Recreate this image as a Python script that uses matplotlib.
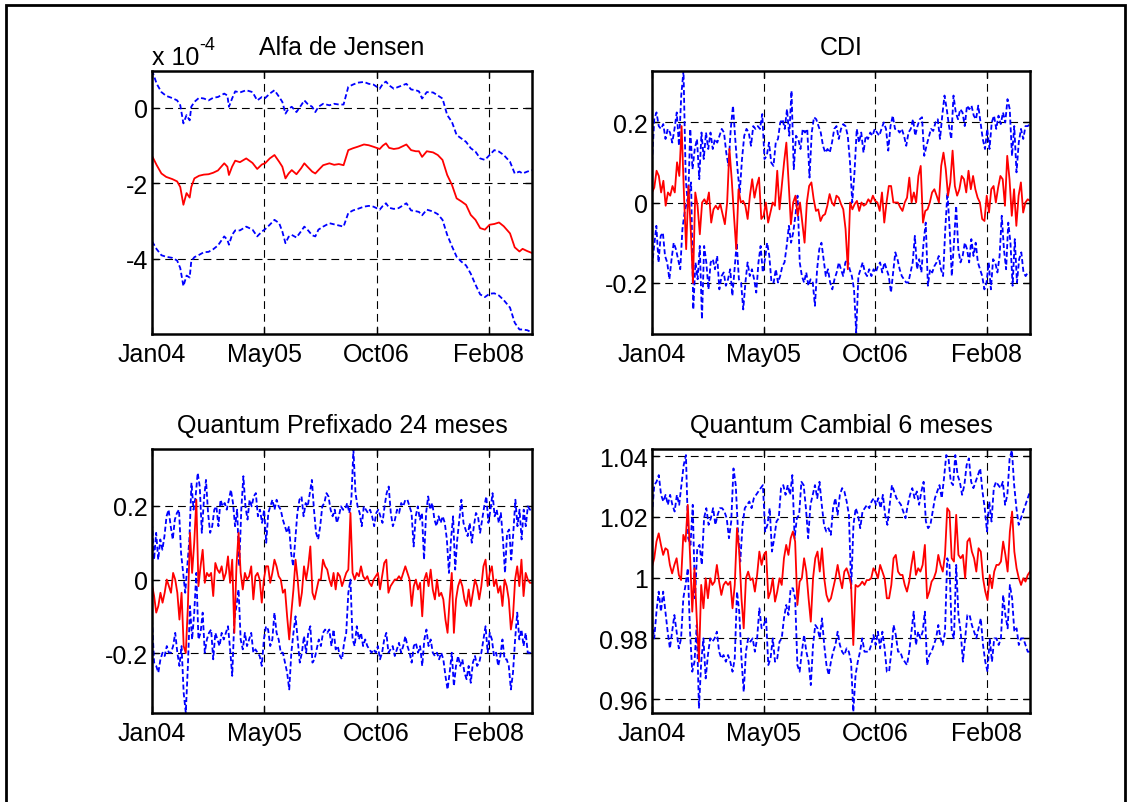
import numpy as np
import matplotlib
matplotlib.use('Agg')
import matplotlib.pyplot as plt
import matplotlib.dates as mdates
import matplotlib.ticker as ticker
from matplotlib.patches import Rectangle

plt.rcParams['font.family'] = ['Liberation Sans', 'DejaVu Sans']
plt.rcParams['axes.unicode_minus'] = False

# time axis: weekly data starting 04-Jan-2004, 242 weeks
start = np.datetime64('2004-01-04')
n_weeks = 242
tick_dates = ['2004-01-04', '2005-05-19', '2006-10-01', '2008-02-13']

titles = ['Alfa de Jensen', 'CDI', 'Quantum Prefixado 24 meses', 'Quantum Cambial 6 meses']

# ---- Alfa de Jensen (in units of 1e-4) ----
alfa_weeks = [0, 3, 6, 9, 13, 16, 18, 20, 22, 24, 25, 27, 30, 33, 36, 39, 42, 46, 48, 49,
              51, 53, 56, 60, 64, 67, 70, 72, 75, 78, 81, 83, 85, 87, 89, 92, 95, 97, 99, 102,
              104, 106, 109, 113, 116, 119, 122, 125, 128, 131, 135, 138, 141, 145, 147, 149, 151, 154, 157, 162,
              165, 168, 170, 172, 175, 179, 182, 185, 188, 191, 194, 197, 200, 203, 206, 209, 212, 215, 218, 221,
              224, 228, 231, 234, 236, 239, 242]
alfa_mid = [-1.27, -1.52, -1.74, -1.83, -1.89, -1.95, -2.10, -2.57, -2.26, -2.38,
            -2.10, -1.87, -1.80, -1.77, -1.76, -1.72, -1.66, -1.47, -1.56, -1.78,
            -1.56, -1.40, -1.44, -1.34, -1.46, -1.62, -1.50, -1.47, -1.34, -1.25,
            -1.43, -1.56, -1.87, -1.74, -1.65, -1.76, -1.60, -1.47, -1.56, -1.69,
            -1.74, -1.65, -1.52, -1.47, -1.51, -1.49, -1.52, -1.12, -1.07, -1.03,
            -0.97, -0.99, -1.03, -1.09, -1.00, -0.94, -1.06, -1.09, -1.07, -0.97,
            -1.12, -1.15, -1.15, -1.30, -1.15, -1.18, -1.25, -1.38, -1.78, -2.04,
            -2.40, -2.48, -2.57, -2.84, -2.97, -3.19, -3.23, -3.10, -3.08, -3.04,
            -3.14, -3.33, -3.70, -3.81, -3.74, -3.80, -3.85]
alfa_up = [1.00, 0.64, 0.42, 0.32, 0.26, 0.20, 0.07, -0.41, -0.19, -0.33,
           0.03, 0.16, 0.27, 0.25, 0.20, 0.27, 0.29, 0.38, 0.33, 0.03,
           0.25, 0.44, 0.41, 0.47, 0.42, 0.20, 0.29, 0.26, 0.38, 0.47,
           0.29, 0.16, -0.15, -0.02, 0.03, -0.11, 0.07, 0.20, 0.11, 0.03,
           -0.11, 0.03, 0.11, 0.07, 0.11, 0.09, 0.09, 0.56, 0.62, 0.67,
           0.69, 0.64, 0.62, 0.51, 0.64, 0.70, 0.60, 0.51, 0.56, 0.64,
           0.49, 0.47, 0.44, 0.25, 0.42, 0.41, 0.33, 0.25, -0.19, -0.37,
           -0.72, -0.81, -0.90, -1.07, -1.16, -1.34, -1.38, -1.25, -1.12, -1.16,
           -1.25, -1.43, -1.74, -1.69, -1.74, -1.69, -1.65]
alfa_low = [-3.54, -3.75, -3.91, -3.95, -3.98, -4.05, -4.25, -4.73, -4.45, -4.50,
            -4.07, -3.96, -3.90, -3.83, -3.82, -3.75, -3.65, -3.41, -3.50, -3.63,
            -3.37, -3.25, -3.25, -3.15, -3.23, -3.41, -3.28, -3.22, -3.10, -2.97,
            -3.06, -3.28, -3.59, -3.42, -3.37, -3.44, -3.27, -3.15, -3.23, -3.38,
            -3.41, -3.23, -3.15, -3.06, -3.09, -3.12, -3.15, -2.79, -2.72, -2.68,
            -2.62, -2.60, -2.62, -2.70, -2.60, -2.53, -2.65, -2.68, -2.66, -2.53,
            -2.72, -2.74, -2.76, -2.85, -2.70, -2.75, -2.82, -2.97, -3.37, -3.67,
            -3.95, -4.08, -4.18, -4.40, -4.69, -4.95, -5.02, -4.93, -4.92, -4.98,
            -5.10, -5.30, -5.70, -5.88, -5.88, -5.90, -5.96]
alfa_scale = 1e-4
alfa_yticks = [-4, -2, 0]
alfa_ylim = [-6.0, 0.98]

# ---- CDI ----
cdi_mid = [0.025, 0.037, 0.079, 0.066, 0.025, 0.054, -0.008, 0.025, 0.017, 0.041, 0.025, 0.10, 0.066, 0.19,
           0.025, -0.116, 0.041, -0.066, -0.20, 0.025, -0.008, -0.079, 0, 0.008, -0.004, 0.025, -0.05, -0.017,
           -0.008, -0.017, -0.004, -0.029, -0.054, 0, 0.133, 0.058, -0.033, -0.116, 0.033, 0, 0.004, -0.008,
           -0.041, 0.017, 0.058, 0.012, 0.041, 0.062, -0.041, -0.033, 0, -0.05, -0.025, 0, -0.008, 0.079, -0.017,
           0.041, 0.10, 0.149, 0.05, -0.054, 0, 0.017, -0.033, 0, -0.05, -0.10, 0, 0.041, 0.05, 0.008, -0.021,
           -0.017, -0.046, -0.033, -0.029, -0.008, 0.021, 0, -0.008, 0.017, 0.012, -0.004, -0.017, -0.066, -0.166,
           0, -0.017, -0.004, 0.004, -0.021, 0, -0.008, -0.004, 0.008, 0, 0.017, 0.004, 0, -0.021, 0.025, -0.05,
           0, 0.041, 0.041, 0, 0, 0, -0.012, -0.021, 0, 0.012, 0.062, 0, 0.025, 0, 0.066, 0.091, -0.05, -0.021,
           -0.017, 0, 0.025, 0.033, 0.017, 0, 0.091, 0.124, 0.083, 0.017, 0.05, 0.129, 0.041, 0.017, 0.033, 0.066,
           0.058, 0.025, 0.079, 0.033, 0.066, 0.033, 0.012, 0, -0.041, -0.046, 0.017, -0.025, 0.033, 0.041, 0,
           0.037, 0.066, 0.058, -0.008, 0.116, 0.058, -0.033, 0.033, -0.058, 0.017, 0.05, -0.025, 0, 0.008, 0.004]
cdi_up = [0.10, 0.207, 0.224, 0.19, 0.183, 0.195, 0.158, 0.183, 0.174, 0.149, 0.183, 0.224, 0.141, 0.266,
          0.328, 0.058, -0.008, 0.183, 0.083, 0.133, 0.158, 0.058, 0.174, 0.108, 0.174, 0.133, 0.174, 0.133,
          0.158, 0.149, 0.166, 0.183, 0.174, 0.124, 0.091, 0.183, 0.241, 0.158, 0.083, 0.025, 0.108, 0.166,
          0.183, 0.174, 0.141, 0.19, 0.183, 0.19, 0.183, 0.22, 0.108, 0.116, 0.149, 0.099, 0.091, 0.149, 0.158,
          0.199, 0.207, 0.183, 0.232, 0.166, 0.278, 0.083, 0.166, 0.158, 0.133, 0.183, 0.174, 0.183, 0.062,
          0.174, 0.212, 0.207, 0.19, 0.174, 0.141, 0.124, 0.133, 0.124, 0.149, 0.183, 0.19, 0.158, 0.183, 0.195,
          0.19, 0.166, 0.10, 0, 0.075, 0.183, 0.149, 0.174, 0.124, 0.166, 0.158, 0.174, 0.166, 0.183, 0.174,
          0.166, 0.183, 0.199, 0.183, 0.129, 0.19, 0.216, 0.183, 0.183, 0.174, 0.183, 0.166, 0.141, 0.174, 0.183,
          0.207, 0.166, 0.19, 0.207, 0.212, 0.116, 0.141, 0.162, 0.183, 0.178, 0.199, 0.207, 0.158, 0.216, 0.266,
          0.232, 0.19, 0.158, 0.266, 0.224, 0.207, 0.232, 0.224, 0.19, 0.241, 0.232, 0.241, 0.216, 0.207, 0.241,
          0.199, 0.158, 0.133, 0.183, 0.133, 0.199, 0.216, 0.183, 0.216, 0.195, 0.224, 0.199, 0.257, 0.232, 0.116,
          0.19, 0.075, 0.149, 0.183, 0.158, 0.19, 0.19, 0.195]
cdi_low = [-0.158, -0.108, -0.058, -0.149, -0.083, -0.075, -0.133, -0.149, -0.191, -0.141, -0.10, -0.116,
           -0.141, -0.166, -0.066, -0.025, 0, 0.017, 0.05, -0.266, -0.149, -0.191, -0.108, -0.29, -0.108, -0.149,
           -0.216, -0.149, -0.141, -0.166, -0.133, -0.216, -0.183, -0.174, -0.207, -0.191, -0.166, -0.232, -0.166,
           -0.10, -0.191, -0.199, -0.266, -0.199, -0.149, -0.183, -0.166, -0.191, -0.224, -0.149, -0.108, -0.174,
           -0.141, -0.10, -0.133, -0.199, -0.199, -0.166, -0.199, -0.183, -0.158, -0.149, -0.108, -0.058, -0.10,
           -0.075, -0.033, 0.017, -0.149, -0.183, -0.199, -0.174, -0.207, -0.191, -0.199, -0.257, -0.166, -0.116,
           -0.10, -0.141, -0.183, -0.166, -0.199, -0.216, -0.191, -0.174, -0.149, -0.166, -0.183, -0.149, -0.141,
           -0.166, -0.183, -0.216, -0.324, -0.183, -0.166, -0.149, -0.174, -0.183, -0.166, -0.183, -0.166, -0.174,
           -0.158, -0.149, -0.174, -0.149, -0.166, -0.183, -0.224, -0.174, -0.124, -0.141, -0.166, -0.183, -0.191,
           -0.199, -0.199, -0.174, -0.149, -0.083, -0.166, -0.141, -0.174, -0.10, -0.05, -0.207, -0.166, -0.174,
           -0.158, -0.149, -0.133, -0.166, -0.183, -0.066, 0.025, -0.066, -0.183, -0.10, -0.008, -0.116, -0.149,
           -0.133, -0.10, -0.116, -0.149, -0.091, -0.133, -0.10, -0.149, -0.166, -0.183, -0.216, -0.199, -0.149,
           -0.216, -0.141, -0.149, -0.174, -0.133, -0.033, -0.116, -0.166, -0.05, -0.10, -0.207, -0.091, -0.199,
           -0.141, -0.124, -0.174, -0.183, -0.174, -0.174]
cdi_yticks = [-0.2, 0, 0.2]
cdi_ylim = [-0.327, 0.327]

# ---- Quantum Prefixado 24 meses ----
pre_mid = [-0.014, -0.045, -0.09, -0.072, -0.036, -0.063, -0.036, 0, -0.018, -0.036, 0.018, 0, -0.036, -0.109,
           -0.036, -0.181, -0.2, -0.072, 0.127, 0.018, 0.10, 0.217, -0.018, 0.036, 0.081, -0.009, 0.018, 0.009,
           0.018, -0.045, 0.045, 0.027, 0.018, 0.036, 0, 0.018, 0.063, -0.009, 0.054, -0.145, 0.036, 0.127, 0.018,
           -0.027, 0.018, 0, 0.009, 0.036, -0.054, 0.009, 0.018, 0, -0.063, 0, 0.036, 0.036, -0.009, 0.018, 0.054,
           0.036, 0.009, 0, -0.036, -0.027, -0.10, -0.163, -0.09, -0.027, 0.054, 0, -0.072, -0.036, 0.036, 0,
           0.036, 0.09, -0.036, -0.054, -0.027, 0, 0, 0.054, 0.036, 0.027, 0, -0.018, 0.018, -0.027, 0.018, 0.009,
           -0.018, 0, 0.018, 0.027, 0.181, 0.018, 0, 0.018, 0.009, 0.036, 0.009, 0, 0.009, -0.009, -0.018, 0,
           0.009, 0.018, -0.027, 0.009, 0.045, 0.054, -0.036, -0.018, -0.009, 0, 0, 0.009, 0, 0.018, 0.036, 0.018,
           0, -0.072, -0.018, 0, -0.027, -0.009, -0.10, 0, 0.018, -0.018, 0.027, -0.027, -0.054, 0, -0.045, -0.036,
           -0.054, -0.109, -0.145, -0.054, 0.018, -0.145, -0.054, -0.018, 0, -0.018, -0.054, -0.072, -0.027,
           -0.072, -0.036, 0, -0.018, -0.054, -0.018, 0.036, 0.054, -0.018, 0.018, 0.036, -0.018, 0, -0.036,
           -0.018, -0.072, 0, -0.018, -0.054, -0.136, -0.10, 0, 0.036, -0.018, 0.054, -0.045, 0.018, 0, -0.009,
           -0.009]
pre_up = [0.154, 0.054, 0.127, 0.054, 0.109, 0.081, 0.118, 0.172, 0.19, 0.145, 0.109, 0.163, 0.181, 0.19,
          0.072, 0.018, -0.036, 0.036, 0.109, 0.263, 0.19, 0.226, 0.29, 0.253, 0.127, 0.217, 0.271, 0.181, 0.127,
          0.145, 0.19, 0.199, 0.145, 0.217, 0.199, 0.208, 0.19, 0.217, 0.244, 0.208, 0.145, 0.19, 0.036, 0.19,
          0.281, 0.199, 0.163, 0.217, 0.199, 0.226, 0.235, 0.172, 0.19, 0.154, 0.19, 0.10, 0.181, 0.199, 0.217,
          0.19, 0.217, 0.199, 0.19, 0.163, 0.145, 0.127, 0.145, 0.072, 0.036, 0.109, 0.181, 0.217, 0.226, 0.172,
          0.208, 0.199, 0.235, 0.271, 0.19, 0.127, 0.109, 0.145, 0.199, 0.208, 0.235, 0.226, 0.19, 0.172, 0.19,
          0.154, 0.172, 0.199, 0.19, 0.19, 0.208, 0.181, 0.217, 0.353, 0.235, 0.199, 0.181, 0.145, 0.199, 0.19,
          0.181, 0.19, 0.172, 0.145, 0.181, 0.19, 0.172, 0.154, 0.199, 0.235, 0.253, 0.181, 0.145, 0.163, 0.19,
          0.181, 0.208, 0.199, 0.217, 0.217, 0.199, 0.181, 0.09, 0.172, 0.199, 0.163, 0.181, 0.054, 0.181, 0.226,
          0.19, 0.208, 0.163, 0.145, 0.172, 0.154, 0.172, 0.154, 0.109, 0.018, 0.109, 0.172, 0.027, 0.109, 0.163,
          0.217, 0.154, 0.136, 0.118, 0.154, 0.10, 0.145, 0.181, 0.172, 0.127, 0.163, 0.199, 0.226, 0.154, 0.19,
          0.235, 0.172, 0.19, 0.154, 0.181, 0.109, 0.018, 0.127, 0.136, 0.054, 0.127, 0.217, 0.145, 0.19, 0.109,
          0.19, 0.145, 0.199, 0.19, 0.19]
pre_low = [-0.109, -0.226, -0.235, -0.253, -0.217, -0.199, -0.208, -0.181, -0.199, -0.199, -0.181, -0.145,
           -0.199, -0.235, -0.181, -0.308, -0.362, -0.235, -0.072, -0.163, -0.09, 0.018, -0.163, -0.145, -0.09,
           -0.199, -0.163, -0.145, -0.136, -0.217, -0.145, -0.163, -0.181, -0.145, -0.163, -0.145, -0.127, -0.19,
           -0.262, -0.109, -0.072, -0.027, -0.163, -0.19, -0.145, -0.181, -0.163, -0.145, -0.199, -0.19, -0.199,
           -0.208, -0.235, -0.163, -0.127, -0.136, -0.181, -0.163, -0.09, -0.145, -0.163, -0.199, -0.199, -0.226,
           -0.253, -0.299, -0.199, -0.145, -0.10, -0.163, -0.226, -0.199, -0.154, -0.199, -0.145, -0.127, -0.226,
           -0.217, -0.19, -0.163, -0.181, -0.145, -0.136, -0.145, -0.136, -0.181, -0.136, -0.19, -0.181, -0.208,
           -0.217, -0.172, -0.145, -0.036, 0, -0.163, -0.181, -0.127, -0.163, -0.145, -0.181, -0.163, -0.181,
           -0.19, -0.199, -0.19, -0.199, -0.181, -0.217, -0.199, -0.163, -0.145, -0.199, -0.19, -0.181, -0.208,
           -0.19, -0.172, -0.199, -0.181, -0.154, -0.181, -0.199, -0.226, -0.181, -0.172, -0.199, -0.181, -0.235,
           -0.163, -0.136, -0.181, -0.163, -0.199, -0.208, -0.199, -0.217, -0.199, -0.217, -0.262, -0.299, -0.253,
           -0.199, -0.29, -0.235, -0.208, -0.235, -0.217, -0.253, -0.271, -0.235, -0.281, -0.226, -0.208, -0.235,
           -0.226, -0.199, -0.163, -0.127, -0.199, -0.145, -0.163, -0.208, -0.199, -0.235, -0.208, -0.163, -0.217,
           -0.217, -0.235, -0.299, -0.253, -0.163, -0.09, -0.163, -0.136, -0.181, -0.145, -0.199, -0.199, -0.208]
pre_yticks = [-0.2, 0, 0.2]
pre_ylim = [-0.363, 0.355]

# ---- Quantum Cambial 6 meses ----
cam_mid = [1.0036, 1.0064, 1.0119, 1.0146, 1.0108, 1.0075, 1.0097, 1.0091, 1.0042, 1.0014, 1.0042, 1.0064,
           1.0009, 0.9992, 1.0141, 1.0119, 1.024, 1.0075, 0.9888, 1.0031, 0.9866, 0.9723, 0.9976, 0.9899, 0.9998,
           0.9932, 0.9998, 0.9976, 0.9987, 1.0042, 0.9987, 0.9943, 0.9976, 0.9987, 0.9976, 0.9987, 0.9899, 0.9976,
           1.0163, 1.0086, 0.9932, 0.9833, 0.9998, 1.002, 0.9992, 0.9998, 0.9954, 1.0009, 1.0086, 1.0042, 1.0075,
           1.0086, 0.9932, 0.9954, 0.9998, 0.9921, 0.9954, 0.9998, 0.9976, 1.0064, 1.0108, 1.0075, 1.013, 1.0152,
           1.0119, 0.991, 0.9987, 0.9998, 1.0064, 1.002, 0.9932, 0.9855, 0.9998, 1.0064, 1.0086, 1.002, 1.0097,
           0.9998, 0.9943, 0.9921, 0.9932, 0.9965, 0.9998, 1.0042, 0.9998, 0.9965, 1.002, 1.0031, 1.0009, 0.9976,
           0.9778, 0.9976, 0.997, 0.9976, 0.9987, 0.9976, 0.9992, 0.9992, 0.9998, 1.0031, 1.002, 0.9998, 1.0042,
           1.002, 0.9998, 0.9932, 0.9932, 0.9976, 1.0064, 1.0075, 1.002, 1.0009, 1.0009, 0.9976, 0.9954, 0.9987,
           1.0042, 1.0086, 1.0009, 1.0031, 1.002, 1.0042, 1.0108, 0.9932, 0.9954, 0.9987, 0.9998, 1.002, 1.0075,
           1.0042, 1.002, 1.0075, 1.0229, 1.0218, 1.0064, 1.0053, 1.0207, 1.0075, 1.0064, 1.0075, 0.9998, 1.0119,
           1.013, 1.0086, 1.0064, 1.002, 1.0097, 1.0086, 0.9998, 0.9954, 0.9926, 1.0009, 0.9965, 1.002, 1.0042,
           1.0042, 1.0053, 1.0119, 1.0075, 1.002, 1.0152, 1.0218, 1.0086, 1.0031, 0.9998, 0.9976, 0.9998, 0.9987,
           1.0009, 1.002]
cam_up = [1.0207, 1.0305, 1.0316, 1.0338, 1.0273, 1.0251, 1.0273, 1.024, 1.0273, 1.024, 1.0218, 1.0273, 1.024,
          1.0305, 1.0371, 1.0404, 1.013, 1.0108, 1.024, 0.9932, 1.0097, 1.0108, 1.0042, 1.0196, 1.0229, 1.0174,
          1.0196, 1.0229, 1.0174, 1.0207, 1.0229, 1.0229, 1.0218, 1.0196, 1.013, 1.0185, 1.036, 1.0305, 1.0152,
          1.0053, 1.0174, 1.0229, 1.024, 1.0251, 1.0229, 1.0262, 1.0273, 1.0284, 1.0295, 1.0305, 1.0152, 1.0174,
          1.0229, 1.0086, 1.013, 1.0185, 1.0196, 1.0295, 1.0305, 1.0273, 1.0305, 1.0273, 1.0338, 1.013, 1.0196,
          1.0207, 1.0316, 1.0305, 1.0229, 1.013, 1.024, 1.0273, 1.0305, 1.0262, 1.0316, 1.024, 1.0174, 1.0152,
          1.0163, 1.0141, 1.0229, 1.0262, 1.0207, 1.0273, 1.0295, 1.0284, 1.0251, 1.0207, 0.9965, 1.0174, 1.0229,
          1.0207, 1.0163, 1.0218, 1.0229, 1.024, 1.0229, 1.0251, 1.0262, 1.024, 1.0262, 1.0229, 1.0273, 1.0207,
          1.0174, 1.024, 1.0305, 1.0284, 1.0262, 1.0251, 1.024, 1.0218, 1.0196, 1.024, 1.0273, 1.0295, 1.0262,
          1.0284, 1.024, 1.0284, 1.0316, 1.0185, 1.0163, 1.0174, 1.0218, 1.0262, 1.0284, 1.0305, 1.0262, 1.0327,
          1.0404, 1.0393, 1.0316, 1.0305, 1.0404, 1.0338, 1.0316, 1.0273, 1.0305, 1.0371, 1.0393, 1.0316, 1.0295,
          1.0316, 1.0338, 1.036, 1.0284, 1.0229, 1.0152, 1.0251, 1.0185, 1.0295, 1.0316, 1.0305, 1.0295, 1.0316,
          1.024, 1.0273, 1.0393, 1.0420, 1.0305, 1.0229, 1.0174, 1.0196, 1.0218, 1.024, 1.0262, 1.0284]
cam_low = [0.9855, 0.98, 0.9888, 0.9954, 0.9888, 0.9954, 0.9888, 0.9822, 0.9767, 0.9822, 0.9877, 0.9822,
           0.9767, 0.98, 0.9932, 0.9976, 1.0031, 0.9822, 0.969, 0.9723, 0.9844, 0.9569, 0.9723, 0.98, 0.9668,
           0.9745, 0.98, 0.9789, 0.98, 0.9822, 0.9756, 0.9734, 0.9745, 0.9723, 0.9745, 0.9723, 0.969, 0.9734,
           0.9954, 0.9888, 0.9734, 0.9624, 0.9756, 0.98, 0.9789, 0.98, 0.9756, 0.98, 0.9899, 0.9833, 0.9844,
           0.9866, 0.9712, 0.9734, 0.98, 0.9723, 0.9734, 0.9789, 0.98, 0.9866, 0.991, 0.9877, 0.9965, 0.9965,
           0.9932, 0.9712, 0.969, 0.9756, 0.9811, 0.9756, 0.9723, 0.9646, 0.9778, 0.9844, 0.9833, 0.98, 0.9866,
           0.9778, 0.9712, 0.9679, 0.9723, 0.9756, 0.9778, 0.9822, 0.9778, 0.9756, 0.9745, 0.9767, 0.9756,
           0.9723, 0.9558, 0.9679, 0.9723, 0.9756, 0.98, 0.9756, 0.9756, 0.9756, 0.9778, 0.9811, 0.9778, 0.9822,
           0.9767, 0.9822, 0.9767, 0.969, 0.969, 0.9756, 0.9844, 0.9811, 0.9756, 0.9756, 0.9734, 0.9723, 0.9712,
           0.9756, 0.9822, 0.9888, 0.9778, 0.9822, 0.98, 0.9822, 0.9888, 0.9712, 0.9745, 0.9756, 0.9778, 0.98,
           0.9844, 0.98, 0.9778, 0.9822, 1.0064, 1.0042, 0.9822, 0.98, 1.0042, 0.9877, 0.9822, 0.9723, 0.98,
           0.9877, 0.9877, 0.9844, 0.9822, 0.98, 0.9833, 0.9866, 0.9778, 0.9723, 0.969, 0.98, 0.9723, 0.98, 0.98,
           0.9778, 0.98, 0.9943, 0.9877, 0.9833, 0.9976, 0.9932, 0.9822, 0.9833, 0.9778, 0.98, 0.98, 0.9778,
           0.9756, 0.9756]
cam_yticks = [0.96, 0.98, 1.0, 1.02, 1.04]
cam_ylim = [0.9554, 1.0424]

fig = plt.figure(figsize=(11.31, 8.03), dpi=100)
W, H = 1131.0, 803.0
x0 = mdates.date2num(start)
band_style = dict(color='blue', lw=1.3, ls=(0, (2.8, 1.5)))


def px_axes(left, top, right, bottom):
    return fig.add_axes([left / W, 1 - bottom / H, (right - left) / W, (bottom - top) / H])


def weekly(values):
    # evenly spaced weekly observations over the sample
    return x0 + np.linspace(0, n_weeks * 7, len(values))


def draw(ax, series_x, mid, up, low, title, yticks, ylim, scale=1.0):
    xs_mid, xs_up, xs_low = series_x
    ax.plot(xs_up, np.array(up) * scale, **band_style)
    ax.plot(xs_low, np.array(low) * scale, **band_style)
    ax.plot(xs_mid, np.array(mid) * scale, color='red', lw=1.3)
    ax.set_xlim(x0, x0 + n_weeks * 7)
    ax.set_ylim(ylim[0] * scale, ylim[1] * scale)
    ax.set_xticks(mdates.date2num(np.array(tick_dates, dtype='datetime64[D]')))
    ax.xaxis.set_major_formatter(mdates.DateFormatter('%b%y'))
    ax.set_yticks(np.array(yticks) * scale)
    ax.yaxis.set_major_formatter(ticker.FuncFormatter(lambda v, p: '%g' % round(v / scale, 6)))
    ax.grid(True, color='black', lw=0.8, ls=(0, (7, 4.5)))
    ax.set_axisbelow(True)
    ax.tick_params(direction='in', length=5, width=1, top=True, right=True,
                   labelsize=18, colors='black')
    ax.tick_params(axis='x', pad=6)
    ax.tick_params(axis='y', pad=3)
    for s in ax.spines.values():
        s.set_linewidth(1.8)
    ax.set_title(title, fontsize=18, pad=12)


ax1 = px_axes(152, 72, 532, 335)
xa = x0 + np.array(alfa_weeks) * 7
draw(ax1, (xa, xa, xa), alfa_mid, alfa_up, alfa_low, titles[0], alfa_yticks, alfa_ylim, scale=alfa_scale)
# exponent label, MATLAB style
ax1.text(0.0, 1 + 7 / 263, 'x 10', fontsize=18, ha='left', va='baseline', transform=ax1.transAxes)
ax1.text(47 / 380, 1 + 22 / 263, '-4', fontsize=13, ha='left', va='baseline', transform=ax1.transAxes)

ax2 = px_axes(652, 72, 1030, 335)
draw(ax2, (weekly(cdi_mid), weekly(cdi_up), weekly(cdi_low)), cdi_mid, cdi_up, cdi_low,
     titles[1], cdi_yticks, cdi_ylim)

ax3 = px_axes(152, 450, 532, 714)
draw(ax3, (weekly(pre_mid), weekly(pre_up), weekly(pre_low)), pre_mid, pre_up, pre_low,
     titles[2], pre_yticks, pre_ylim)

ax4 = px_axes(652, 450, 1030, 714)
draw(ax4, (weekly(cam_mid), weekly(cam_up), weekly(cam_low)), cam_mid, cam_up, cam_low,
     titles[3], cam_yticks, cam_ylim)

# outer frame around the figure
fig.add_artist(Rectangle((5.5 / W, -0.02), (1125 - 5.5) / W, 1.02 - 5.5 / H,
                         transform=fig.transFigure, fill=False, lw=2, color='black'))

fig.savefig('out.png', dpi=100)
